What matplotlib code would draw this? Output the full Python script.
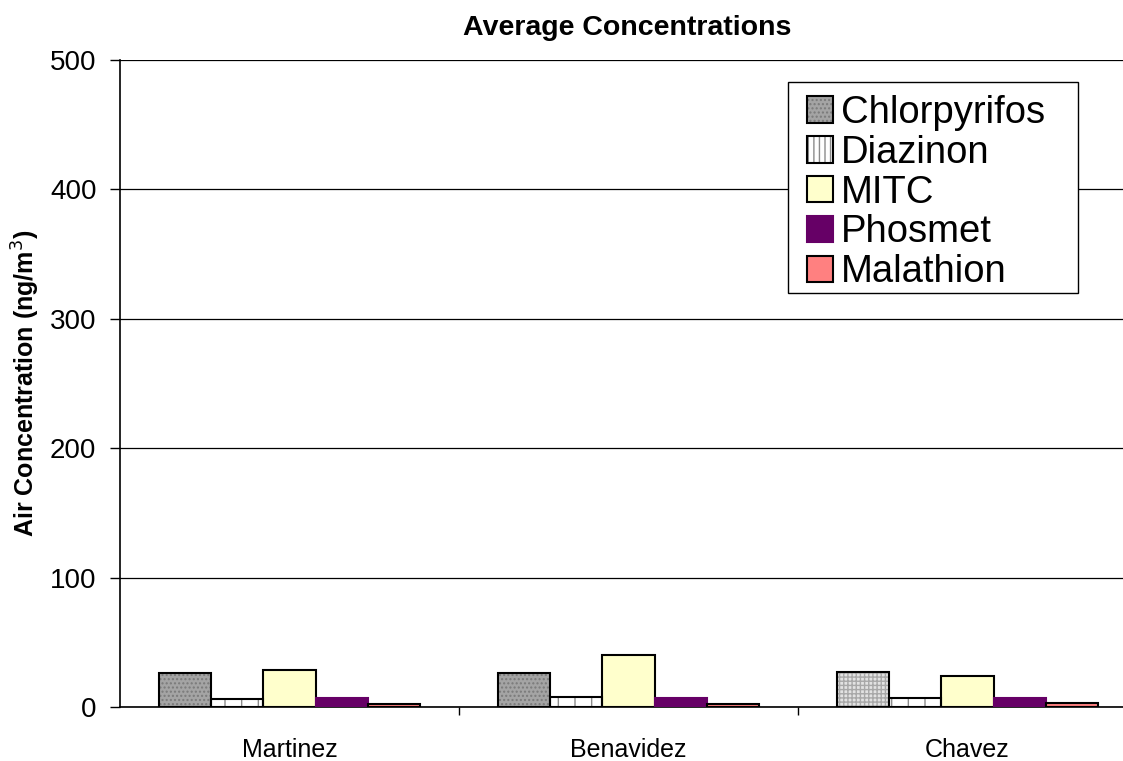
import matplotlib
matplotlib.use("Agg")
import matplotlib.pyplot as plt
from matplotlib.patches import Patch, Rectangle
from matplotlib.legend_handler import HandlerTuple
import numpy as np

plt.rcParams['font.family'] = ['Liberation Sans', 'DejaVu Sans']
plt.rcParams['hatch.linewidth'] = 1.0

sites = ["Martinez", "Benavidez", "Chavez"]
compounds = ["Chlorpyrifos", "Diazinon", "MITC", "Phosmet", "Malathion"]
chlorpyrifos = [26.0, 26.0, 27.3]
diazinon = [6.0, 7.5, 7.3]
mitc = [28.6, 40.0, 24.2]
phosmet = [6.7, 7.2, 7.0]
malathion = [2.6, 2.3, 2.8]
series = [chlorpyrifos, diazinon, mitc, phosmet, malathion]
yticks = [0, 100, 200, 300, 400, 500]

W, H = 1123, 761
fig = plt.figure(figsize=(W / 100, H / 100), dpi=100)
ax = fig.add_axes([120 / W, (H - 707) / H, (1137 - 120) / W, (707 - 60) / H])

x = np.arange(len(sites))
n = len(series)
bw = 1.0 / (n + 1.5)
offsets = (np.arange(n) - (n - 1) / 2) * bw

# fill, hatch colour, hatch for each series (per site for chlorpyrifos)
styles = [
    [("#a4a4a4", "#7a7a7a", "...."), ("#a4a4a4", "#7a7a7a", "...."), ("#e2e2e2", "#a8a8a8", "++++")],
    [("#ffffff", "#8c8c8c", "|")] * 3,
    [("#ffffcc", None, None)] * 3,
    [("#660066", None, None)] * 3,
    [("#ff8080", None, None)] * 3,
]
legend_styles = [
    ("#a4a4a4", "#7a7a7a", "...."),
    ("#ffffff", "#8c8c8c", "|||"),
    ("#ffffcc", None, None),
    ("#660066", None, None),
    ("#ff8080", None, None),
]
edges = ["black", "black", "black", "#660066", "black"]
LW = 1.5

for s, (vals, sty, ec) in enumerate(zip(series, styles, edges)):
    for i, v in enumerate(vals):
        fc, hc, hatch = sty[i]
        xi = x[i] + offsets[s]
        if hatch:
            ax.bar(xi, v, bw, color=fc, edgecolor=hc, hatch=hatch, linewidth=0, zorder=3)
            ax.bar(xi, v, bw, fill=False, edgecolor=ec, linewidth=LW, zorder=4)
        else:
            ax.bar(xi, v, bw, color=fc, edgecolor=ec, linewidth=LW, zorder=3)

ax.set_xlim(-0.5, 2.5)
ax.set_ylim(0, 500)
ax.set_yticks(yticks)
ax.set_xticks([0.5, 1.5])
ax.set_xticks(x, minor=True)
ax.set_xticklabels([])
ax.set_xticklabels(sites, minor=True, fontsize=18)
ax.tick_params(axis='x', which='minor', length=0, pad=22)
ax.tick_params(axis='x', which='major', length=6, width=1, direction='out')
ax.tick_params(axis='y', length=7, width=1, direction='out', labelsize=20, pad=10)
ax.grid(axis='y', color='black', linewidth=0.9, zorder=0)
for sp in ['top', 'right']:
    ax.spines[sp].set_visible(False)
for sp in ['left', 'bottom']:
    ax.spines[sp].set_linewidth(1.2)

ax.set_ylabel("Air Concentration (ng/m$^3$)", fontsize=18, fontweight='bold')
ax.yaxis.set_label_coords(-78 / (1137 - 120), 0.5)
fig.text(627 / W, 1 - 28 / H, "Average Concentrations", fontsize=20.5,
         fontweight='bold', ha='center', va='center')

# legend handles: hatch layer under a black outline
def handle(fc, hc, hatch, ec):
    if hatch:
        return (Patch(facecolor=fc, edgecolor=hc, hatch=hatch, linewidth=0),
                Patch(fill=False, edgecolor=ec, linewidth=LW))
    return Patch(facecolor=fc, edgecolor=ec, linewidth=LW)

handles = [handle(*legend_styles[s], edges[s]) for s in range(n)]
leg = ax.legend(handles, compounds, loc='upper left',
                bbox_to_anchor=(807 / W, 1 - 95 / H), bbox_transform=fig.transFigure,
                fontsize=27.5, frameon=False,
                handlelength=0.68, handleheight=0.68, handletextpad=0.22,
                labelspacing=0.1, borderpad=0, borderaxespad=0,
                handler_map={tuple: HandlerTuple(ndivide=1, pad=0)})
leg.set_zorder(10)

# legend box drawn separately so its size can be set directly
frame = Rectangle((788 / W, 1 - 293 / H), (1078 - 788) / W, (293 - 82) / H,
                  transform=fig.transFigure, facecolor='white', edgecolor='black',
                  linewidth=1.0, zorder=9)
ax.add_artist(frame)
frame.set_clip_on(False)

fig.savefig("out.png", dpi=100)
